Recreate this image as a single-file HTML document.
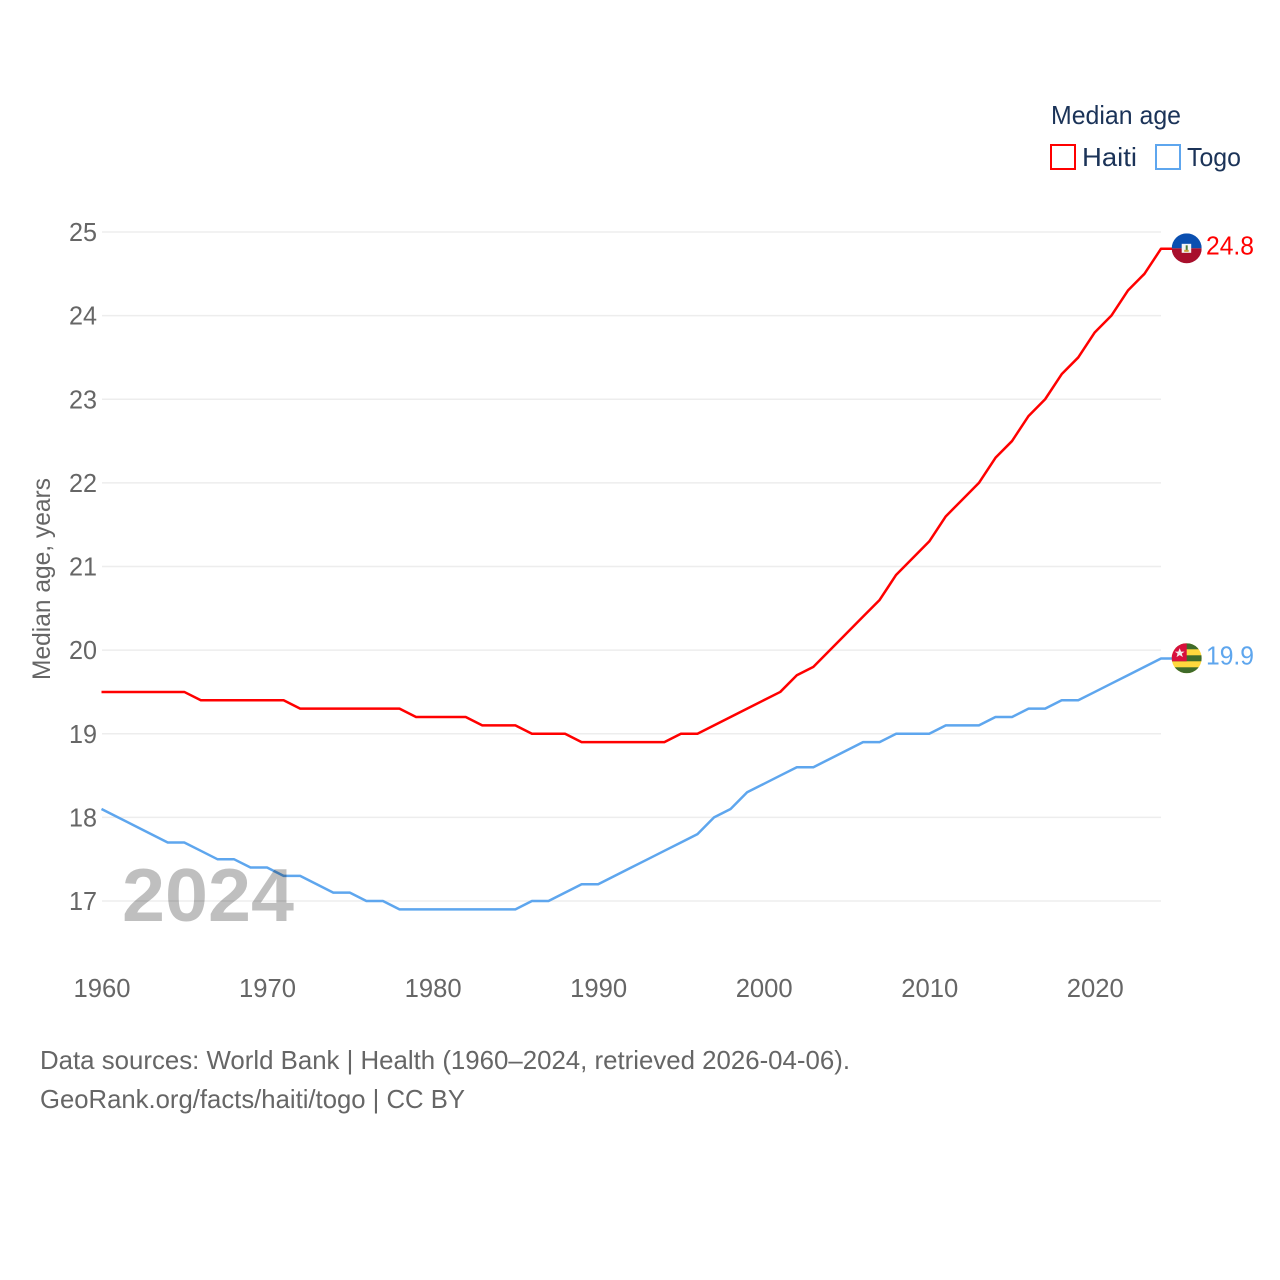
<!DOCTYPE html>
<html lang="en">
<head>
<meta charset="utf-8">
<title>Median age: Haiti and Togo</title>
<style>
html,body{margin:0;padding:0;background:#fff;width:1280px;height:1280px;overflow:hidden}
svg{display:block}
text{font-family:"Liberation Sans",sans-serif}
</style>
</head>
<body>
<svg id="chart" xmlns="http://www.w3.org/2000/svg" width="1280" height="1280" viewBox="0 0 1280 1280">
  <defs>
    <clipPath id="flag-clip-haiti"><circle cx="15" cy="15" r="15"/></clipPath>
    <clipPath id="flag-clip-togo"><circle cx="15" cy="15" r="15"/></clipPath>
  </defs>
  <rect width="1280" height="1280" fill="#fff"/>
  <g id="grid"></g>
  <g id="yticks"></g>
  <g id="xticks"></g>
  <text transform="translate(50,680) rotate(-90)" font-size="25" fill="#666" textLength="202" lengthAdjust="spacingAndGlyphs">Median age, years</text>
  <g id="series"></g>
  <text x="122" y="921" font-size="75" font-weight="700" fill="#000" fill-opacity="0.25" textLength="172" lengthAdjust="spacingAndGlyphs">2024</text>

  <g id="flag-haiti">
    <g clip-path="url(#flag-clip-haiti)">
      <rect width="30" height="15" fill="#0a4fb0"/>
      <rect y="15" width="30" height="15" fill="#a80f2c"/>
      <rect x="10" y="10.5" width="9.5" height="9" fill="#f4f4f4"/>
      <rect x="14" y="12" width="2" height="5" fill="#4a7a3a"/>
      <rect x="12.5" y="16.5" width="4.5" height="2" fill="#c9a43a"/>
    </g>
  </g>
  <g id="flag-togo">
    <g clip-path="url(#flag-clip-togo)">
      <rect width="30" height="30" fill="#ffd83d"/>
      <rect width="30" height="6" fill="#3f6b2a"/>
      <rect y="12" width="30" height="6" fill="#3f6b2a"/>
      <rect y="24" width="30" height="6" fill="#3f6b2a"/>
      <rect width="15" height="18" fill="#d80f3c"/>
      <polygon points="8,5 9.4,8.3 12.9,8.3 10.1,10.4 11.2,13.8 8,11.8 4.8,13.8 5.9,10.4 3.1,8.3 6.6,8.3" fill="#f2eeee"/>
    </g>
  </g>
  <text id="value-haiti" x="1206" font-size="26" fill="#f00" textLength="48" lengthAdjust="spacingAndGlyphs">24.8</text>
  <text id="value-togo" x="1206" font-size="26" fill="#5ea6ee" textLength="48" lengthAdjust="spacingAndGlyphs">19.9</text>

  <g>
    <text x="1051" y="124" font-size="26" fill="#1b3358" textLength="130" lengthAdjust="spacingAndGlyphs">Median age</text>
    <g>
      <rect x="1051" y="145" width="24" height="24" fill="#fff" stroke="#f00" stroke-width="2"/>
      <text x="1082" y="166" font-size="26" fill="#1b3358" textLength="55" lengthAdjust="spacingAndGlyphs">Haiti</text>
    </g>
    <g>
      <rect x="1156" y="145" width="24" height="24" fill="#fff" stroke="#5ea6ee" stroke-width="2"/>
      <text x="1187" y="166" font-size="26" fill="#1b3358" textLength="54" lengthAdjust="spacingAndGlyphs">Togo</text>
    </g>
  </g>

  <text x="40" y="1069" font-size="26" fill="#666" textLength="810" lengthAdjust="spacingAndGlyphs">Data sources: World Bank | Health (1960–2024, retrieved 2026-04-06).</text>
  <text x="40" y="1108" font-size="26" fill="#666" textLength="425" lengthAdjust="spacingAndGlyphs">GeoRank.org/facts/haiti/togo | CC BY</text>
</svg>
<script>
const startYear = 1960;
const yTickLabels = [17, 18, 19, 20, 21, 22, 23, 24, 25];
const xTickLabels = [1960, 1970, 1980, 1990, 2000, 2010, 2020];
const haitiValues = [19.5,19.5,19.5,19.5,19.5,19.5,19.4,19.4,19.4,19.4,19.4,19.4,19.3,19.3,19.3,19.3,19.3,19.3,19.3,19.2,19.2,19.2,19.2,19.1,19.1,19.1,19.0,19.0,19.0,18.9,18.9,18.9,18.9,18.9,18.9,19.0,19.0,19.1,19.2,19.3,19.4,19.5,19.7,19.8,20.0,20.2,20.4,20.6,20.9,21.1,21.3,21.6,21.8,22.0,22.3,22.5,22.8,23.0,23.3,23.5,23.8,24.0,24.3,24.5,24.8];
const togoValues = [18.1,18.0,17.9,17.8,17.7,17.7,17.6,17.5,17.5,17.4,17.4,17.3,17.3,17.2,17.1,17.1,17.0,17.0,16.9,16.9,16.9,16.9,16.9,16.9,16.9,16.9,17.0,17.0,17.1,17.2,17.2,17.3,17.4,17.5,17.6,17.7,17.8,18.0,18.1,18.3,18.4,18.5,18.6,18.6,18.7,18.8,18.9,18.9,19.0,19.0,19.0,19.1,19.1,19.1,19.2,19.2,19.3,19.3,19.4,19.4,19.5,19.6,19.7,19.8,19.9];

const NS = 'http://www.w3.org/2000/svg';
const xScale = function (year) { return 101.5 + (year - 1960) * 16.555; };
const yScale = function (v) { return 232 + (25 - v) * 83.625; };
const HAITI_COLOR = '#f00';
const TOGO_COLOR = '#5ea6ee';

function make(tag, attrs, parent) {
  const el = document.createElementNS(NS, tag);
  Object.keys(attrs).forEach(function (k) { el.setAttribute(k, attrs[k]); });
  parent.appendChild(el);
  return el;
}

const grid = document.getElementById('grid');
const yticks = document.getElementById('yticks');
const xticks = document.getElementById('xticks');
const series = document.getElementById('series');

yTickLabels.forEach(function (t) {
  const line = make('line', { x1: 102, x2: 1161, y1: yScale(t), y2: yScale(t), stroke: '#ededed', 'stroke-width': 1.5 }, grid);
  
  
  const label = make('text', { x: 97, y: yScale(t) + 9, 'font-size': 26, fill: '#666', 'text-anchor': 'end', textLength: 28, lengthAdjust: 'spacingAndGlyphs' }, yticks);
  
  
  label.textContent = String(t);
});

xTickLabels.forEach(function (t) {
  const label = make('text', { x: xScale(t) + 0.5, y: 997, 'font-size': 26, fill: '#666', 'text-anchor': 'middle', textLength: 57, lengthAdjust: 'spacingAndGlyphs' }, xticks);
  
  
  label.textContent = String(t);
});

function buildPath(values) {
  const pts = values.map(function (v, i) { return xScale(startYear + i).toFixed(2) + ',' + yScale(v).toFixed(2); });
  const last = values[values.length - 1];
  pts.push('1172,' + yScale(last).toFixed(2));
  return 'M' + pts.join('L');
}

const togoLine = make('path', { d: buildPath(togoValues), fill: 'none', stroke: TOGO_COLOR, 'stroke-width': 2.5, 'stroke-linejoin': 'round' }, series);


const haitiLine = make('path', { d: buildPath(haitiValues), fill: 'none', stroke: HAITI_COLOR, 'stroke-width': 2.5, 'stroke-linejoin': 'round' }, series);



const haitiEnd = haitiValues[haitiValues.length - 1];
const togoEnd = togoValues[togoValues.length - 1];
document.getElementById('flag-haiti').setAttribute('transform', 'translate(1171.7,' + (yScale(haitiEnd) - 15.4) + ')');
document.getElementById('flag-togo').setAttribute('transform', 'translate(1171.7,' + (yScale(togoEnd) - 15.2) + ')');
const valueHaiti = document.getElementById('value-haiti');
valueHaiti.setAttribute('y', yScale(haitiEnd) + 6);
valueHaiti.textContent = haitiEnd.toFixed(1);
const valueTogo = document.getElementById('value-togo');
valueTogo.setAttribute('y', yScale(togoEnd) + 6);
valueTogo.textContent = togoEnd.toFixed(1);
</script>
</body>
</html>
